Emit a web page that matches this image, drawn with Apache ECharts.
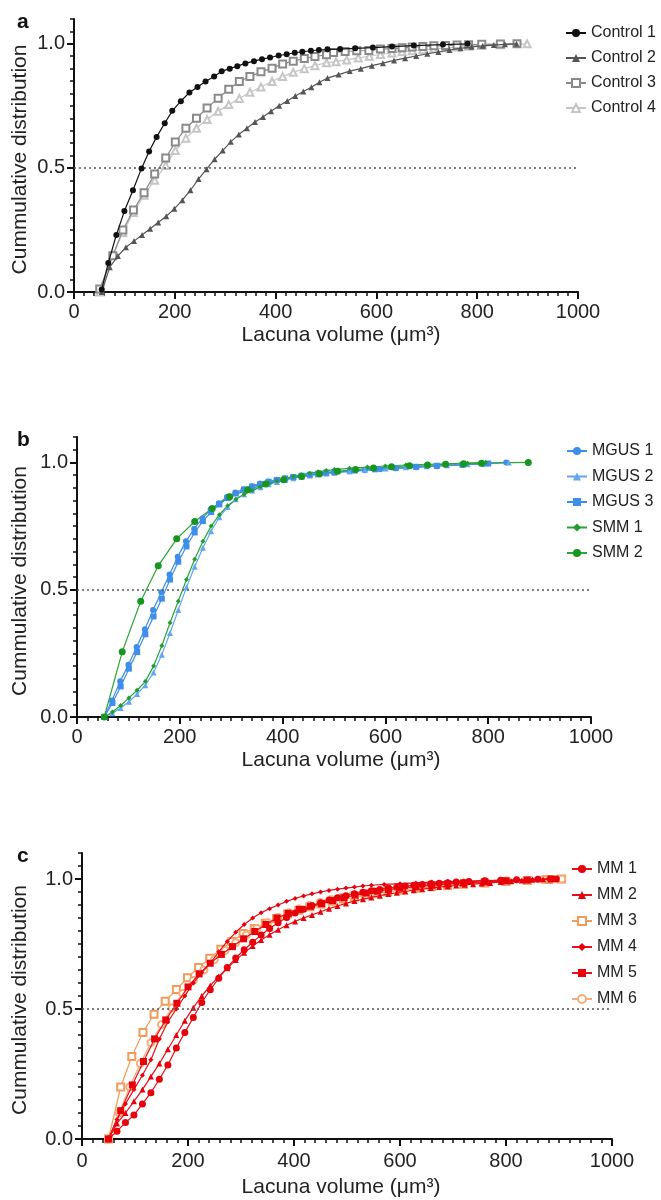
<!DOCTYPE html>
<html><head><meta charset="utf-8">
<script src="https://cdn.jsdelivr.net/npm/echarts@6/dist/echarts.min.js"></script>
<style>html,body{margin:0;padding:0;background:#fff}#c{width:661px;height:1200px}</style>
</head><body><div id="c"></div>
<script>
// ---------- Data ----------
const xTicks = [0, 200, 400, 600, 800, 1000];
const yTicks = [0, 0.5, 1.0];
const panelLabels = ['a', 'b', 'c'];
const xTitle = 'Lacuna volume (μm³)';
const yTitle = 'Cummulative distribution';

// Panel a
const control1X = [55,68,84,100,117,134,149,164,180,195,212,229,245,261,278,293,309,324,340,357,373,389,406,422,438,453,470,486,503,528,558,593,631,674,732,781];
const control1Y = [0.01,0.117,0.23,0.326,0.41,0.498,0.566,0.625,0.68,0.73,0.769,0.804,0.826,0.848,0.868,0.889,0.9,0.91,0.921,0.93,0.938,0.945,0.953,0.958,0.964,0.968,0.972,0.975,0.978,0.979,0.982,0.985,0.989,0.993,0.997,1.0];
const control2X = [55,71,87,103,119,135,151,167,183,199,215,231,247,263,279,295,311,327,343,359,375,391,407,423,439,455,471,487,503,525,547,569,591,613,635,657,679,701,723,745,767,789,811,833,855,878];
const control2Y = [0.0,0.10,0.145,0.18,0.205,0.23,0.255,0.28,0.305,0.335,0.37,0.41,0.455,0.495,0.535,0.57,0.605,0.635,0.66,0.685,0.705,0.728,0.75,0.77,0.79,0.808,0.825,0.845,0.862,0.876,0.89,0.9,0.912,0.922,0.933,0.942,0.951,0.96,0.967,0.975,0.982,0.988,0.992,0.995,0.998,1.0];
const control3X = [51,77,97,118,139,160,182,201,222,243,264,286,307,328,349,371,393,414,435,457,478,501,515,538,561,585,608,631,651,671,692,714,737,760,783,809,846,879];
const control3Y = [0.012,0.146,0.25,0.33,0.40,0.475,0.54,0.604,0.66,0.70,0.741,0.781,0.817,0.848,0.868,0.887,0.902,0.919,0.93,0.941,0.949,0.956,0.965,0.969,0.972,0.973,0.979,0.981,0.984,0.987,0.989,0.992,0.993,0.995,0.996,0.998,0.999,1.0];
const control4X = [51,77,97,118,139,160,182,201,222,243,264,286,307,328,349,371,393,414,435,457,478,501,520,541,564,586,608,631,651,671,692,714,737,760,783,809,846,899];
const control4Y = [0.0,0.15,0.24,0.32,0.39,0.45,0.51,0.57,0.62,0.66,0.695,0.728,0.755,0.78,0.805,0.826,0.848,0.868,0.885,0.9,0.912,0.924,0.928,0.935,0.943,0.95,0.957,0.963,0.968,0.972,0.976,0.98,0.984,0.987,0.99,0.993,0.996,1.0];

// Panel b
const mgus1X = [53,68,84,100,116,132,148,164,180,196,212,228,244,260,276,292,308,324,340,356,372,388,404,420,436,452,468,484,500,530,560,590,620,660,700,750,790,835];
const mgus1Y = [0.0,0.065,0.14,0.205,0.275,0.345,0.42,0.49,0.56,0.63,0.69,0.74,0.78,0.815,0.84,0.865,0.882,0.895,0.907,0.917,0.925,0.932,0.938,0.943,0.948,0.952,0.955,0.958,0.961,0.965,0.969,0.973,0.977,0.981,0.985,0.99,0.994,1.0];
const mgus2X = [53,69,85,101,117,133,149,165,181,197,213,229,245,261,277,293,309,325,341,357,373,389,405,421,437,453,469,485,501,530,560,600,640,680,720,760,800,840];
const mgus2Y = [0.0,0.015,0.035,0.06,0.09,0.125,0.175,0.245,0.33,0.42,0.51,0.59,0.665,0.73,0.785,0.825,0.855,0.875,0.89,0.903,0.914,0.923,0.931,0.938,0.944,0.949,0.953,0.957,0.96,0.965,0.97,0.976,0.981,0.985,0.989,0.993,0.997,1.0];
const mgus3X = [53,69,85,101,117,133,149,165,181,197,213,229,245,261,277,293,309,325,341,357,373,389,405,421,437,453,469,485,501,540,580,620,660,700,750,800];
const mgus3Y = [0.0,0.055,0.12,0.19,0.255,0.325,0.395,0.465,0.54,0.61,0.67,0.725,0.77,0.805,0.835,0.86,0.878,0.893,0.905,0.915,0.924,0.931,0.937,0.943,0.948,0.952,0.956,0.96,0.963,0.968,0.973,0.978,0.983,0.987,0.991,0.996];
const smm1X = [53,69,85,101,117,133,149,165,181,197,213,229,245,261,277,293,309,325,341,357,373,389,405,421,437,453,469,485,501,530,565,600,640,680,720,760,795];
const smm1Y = [0.0,0.02,0.045,0.075,0.105,0.14,0.2,0.28,0.37,0.455,0.54,0.62,0.69,0.75,0.795,0.83,0.855,0.875,0.89,0.905,0.918,0.928,0.937,0.945,0.952,0.958,0.963,0.968,0.972,0.977,0.982,0.986,0.99,0.993,0.995,0.997,1.0];
const smm2X = [53,88,124,158,194,229,263,297,332,367,402,437,472,507,542,577,612,647,682,717,752,787,878];
const smm2Y = [0.0,0.256,0.455,0.594,0.70,0.768,0.819,0.865,0.893,0.915,0.932,0.945,0.956,0.965,0.972,0.978,0.983,0.987,0.99,0.993,0.995,0.997,1.0];

// Panel c
const mm1X = [50,66,82,98,114,130,146,162,178,194,210,226,242,258,274,290,306,322,338,354,370,386,402,418,434,450,466,482,498,514,530,546,562,578,594,610,626,642,658,674,690,706,730,760,790,820,860,895];
const mm1Y = [0.0,0.03,0.063,0.092,0.135,0.178,0.23,0.285,0.35,0.41,0.467,0.525,0.574,0.618,0.66,0.696,0.728,0.757,0.785,0.81,0.832,0.852,0.869,0.884,0.897,0.909,0.919,0.928,0.936,0.943,0.949,0.955,0.96,0.965,0.969,0.973,0.976,0.979,0.982,0.984,0.986,0.988,0.99,0.993,0.995,0.997,0.999,1.0];
const mm2X = [50,66,82,98,114,130,146,162,178,194,210,226,242,258,274,290,306,322,338,354,370,386,402,418,434,450,466,482,498,514,530,546,562,578,594,610,626,642,658,674,690,706,722,738,754,770,790,810,830,850,870,890];
const mm2Y = [0.0,0.06,0.1,0.145,0.19,0.24,0.29,0.345,0.4,0.455,0.505,0.55,0.59,0.625,0.657,0.688,0.716,0.742,0.765,0.786,0.805,0.822,0.837,0.85,0.862,0.874,0.886,0.896,0.906,0.915,0.922,0.929,0.936,0.942,0.947,0.952,0.957,0.961,0.965,0.969,0.972,0.975,0.978,0.98,0.983,0.985,0.988,0.991,0.994,0.997,0.999,1.0];
const mm3X = [50,73,94,115,136,157,178,199,220,241,262,283,304,325,346,367,388,409,430,451,472,493,514,535,556,577,600,630,660,690,720,760,800,840,880,905];
const mm3Y = [0.0,0.2,0.317,0.41,0.48,0.53,0.575,0.62,0.66,0.695,0.73,0.76,0.79,0.81,0.83,0.848,0.865,0.88,0.893,0.904,0.914,0.923,0.931,0.938,0.945,0.951,0.957,0.964,0.97,0.975,0.98,0.985,0.99,0.994,0.998,1.0];
const mm4X = [50,66,82,98,114,130,146,162,178,194,210,226,242,258,274,290,306,322,338,354,370,386,402,418,434,450,466,482,498,514,530,546,570,600,630,660,690,720,760,800,850,880];
const mm4Y = [0.0,0.075,0.135,0.19,0.245,0.305,0.385,0.45,0.5,0.55,0.6,0.64,0.675,0.72,0.76,0.795,0.825,0.85,0.87,0.886,0.9,0.914,0.925,0.935,0.943,0.95,0.956,0.961,0.965,0.969,0.973,0.976,0.979,0.982,0.985,0.988,0.99,0.992,0.994,0.996,0.998,1.0];
const mm5X = [50,73,95,116,137,158,179,200,221,242,263,284,305,326,347,368,389,410,431,452,473,494,515,536,557,578,600,630,660,690,720,760,800,840,885];
const mm5Y = [0.0,0.109,0.208,0.298,0.385,0.458,0.522,0.585,0.635,0.676,0.71,0.74,0.77,0.798,0.825,0.85,0.868,0.883,0.895,0.905,0.917,0.928,0.938,0.946,0.953,0.959,0.965,0.971,0.976,0.981,0.985,0.989,0.993,0.996,1.0];
const mm6X = [50,70,90,110,130,150,170,190,210,230,250,270,290,310,330,350,370,390,410,430,450,470,490,510,530,550,575,600,630,660,690,720,760,800,840,870,905];
const mm6Y = [0.0,0.1,0.2,0.29,0.37,0.44,0.505,0.56,0.61,0.65,0.69,0.725,0.755,0.785,0.81,0.832,0.852,0.87,0.885,0.898,0.91,0.92,0.929,0.937,0.944,0.95,0.957,0.963,0.97,0.975,0.98,0.984,0.988,0.992,0.995,0.998,1.0];

// ---------- Layout ----------
const FONT = "'Liberation Sans', Arial, Helvetica, sans-serif";
const grids = [
  {left: 74, top: 19, width: 504, height: 273},
  {left: 77, top: 437, width: 514, height: 280},
  {left: 82, top: 853, width: 530, height: 286}
];
const legendPos = [
  {left: 565, top: 25},
  {left: 566, top: 443},
  {left: 571, top: 861}
];
const labelMargins = [10, 10, 12];
const titleOffsets = [43, 43, 48];

const xAxes = [], yAxes = [];
grids.forEach((g, i) => {
  // minor-tick axis (carries the axis line)
  xAxes.push({type: 'value', gridIndex: i, min: 0, max: 1000, interval: 20,
    axisLine: {show: true, onZero: false, lineStyle: {color: '#111', width: 2}},
    axisTick: {show: true, length: 4, lineStyle: {color: '#111', width: 1.5}},
    axisLabel: {show: false}, splitLine: {show: false}});
  // major-tick axis with labels
  xAxes.push({type: 'value', gridIndex: i, min: 0, max: 1000, interval: 200, position: 'bottom',
    axisLine: {show: false, onZero: false},
    axisTick: {show: true, length: 7, lineStyle: {color: '#111', width: 2}},
    axisLabel: {show: true, margin: labelMargins[i], fontSize: 20, color: '#222', fontFamily: FONT,
      formatter: v => String(v)},
    splitLine: {show: false}});
  yAxes.push({type: 'value', gridIndex: i, min: 0, max: 1.1, interval: 0.05,
    axisLine: {show: true, onZero: false, lineStyle: {color: '#111', width: 2}},
    axisTick: {show: true, length: 4, lineStyle: {color: '#111', width: 1.5}},
    axisLabel: {show: false}, splitLine: {show: false}});
  yAxes.push({type: 'value', gridIndex: i, min: 0, max: 1.1, position: 'left',
    axisLine: {show: false, onZero: false},
    axisTick: {show: true, length: 7, customValues: yTicks, lineStyle: {color: '#111', width: 2}},
    axisLabel: {show: true, margin: 9, fontSize: 20, color: '#222', fontFamily: FONT,
      customValues: yTicks, formatter: v => v.toFixed(1)},
    splitLine: {show: false}});
});

function mk(name, xs, ys, gi, symbol, size, color, lineColor, opts) {
  const s = {
    name, type: 'line', xAxisIndex: gi * 2, yAxisIndex: gi * 2,
    data: xs.map((x, i) => [x, ys[i]]),
    symbol, symbolSize: size, showSymbol: true,
    lineStyle: {color: lineColor || color, width: 1.2},
    itemStyle: {color: color, borderColor: color, borderWidth: symbol.startsWith('empty') ? 1.4 : 0},
    emphasis: {disabled: true}, animation: false, z: 3
  };
  return Object.assign(s, opts || {});
}
const refLine = {silent: true, symbol: 'none', label: {show: false},
  lineStyle: {type: [2, 3], color: '#555', width: 1.5}, data: [{yAxis: 0.5}]};

const series = [
  mk('Control 1', control1X, control1Y, 0, 'circle', 6, '#111', '#111', {markLine: refLine, z: 6}),
  mk('Control 2', control2X, control2Y, 0, 'triangle', 6, '#555', '#555', {z: 5}),
  mk('Control 3', control3X, control3Y, 0, 'emptyRect', 7, '#8a8a8a', '#8a8a8a', {z: 4}),
  mk('Control 4', control4X, control4Y, 0, 'emptyTriangle', 7, '#c6c6c6', '#c6c6c6', {z: 3}),
  mk('MGUS 1', mgus1X, mgus1Y, 1, 'circle', 6, '#3d8ee8', '#3d8ee8', {markLine: refLine}),
  mk('MGUS 2', mgus2X, mgus2Y, 1, 'triangle', 6, '#62a6f0', '#62a6f0'),
  mk('MGUS 3', mgus3X, mgus3Y, 1, 'rect', 6, '#3f8fea', '#3f8fea'),
  mk('SMM 1', smm1X, smm1Y, 1, 'diamond', 5, '#1f9e2c', '#2aa637'),
  mk('SMM 2', smm2X, smm2Y, 1, 'circle', 7, '#17961f', '#2aa637'),
  mk('MM 1', mm1X, mm1Y, 2, 'circle', 7, '#e8000b', '#e8101a', {markLine: refLine}),
  mk('MM 2', mm2X, mm2Y, 2, 'triangle', 6, '#e8000b', '#e8101a'),
  mk('MM 3', mm3X, mm3Y, 2, 'emptyRect', 7, '#f49a5a', '#f49a5a', {z: 2}),
  mk('MM 4', mm4X, mm4Y, 2, 'diamond', 5, '#e8000b', '#e8101a'),
  mk('MM 5', mm5X, mm5Y, 2, 'rect', 7, '#e8000b', '#e8101a'),
  mk('MM 6', mm6X, mm6Y, 2, 'emptyCircle', 7, '#f7ad78', '#f7ad78', {z: 2})
];

const legendGroups = [
  ['Control 1', 'Control 2', 'Control 3', 'Control 4'],
  ['MGUS 1', 'MGUS 2', 'MGUS 3', 'SMM 1', 'SMM 2'],
  ['MM 1', 'MM 2', 'MM 3', 'MM 4', 'MM 5', 'MM 6']
];
const gaps = [9, 9.5, 10];
const legends = legendGroups.map((names, i) => ({
  data: names, orient: 'vertical', left: legendPos[i].left, top: legendPos[i].top,
  padding: 0, itemWidth: 20, itemHeight: 10, itemGap: gaps[i], selectedMode: false,
  textStyle: {fontSize: 16, color: '#222', fontFamily: FONT}
}));

const graphics = [];
grids.forEach((g, i) => {
  graphics.push({type: 'text', left: 17, top: g.top - 7,
    style: {text: panelLabels[i], fontSize: 21, fontWeight: 'bold', fill: '#111', fontFamily: FONT}});
  graphics.push({type: 'text', x: 20, y: g.top + g.height / 2 + 4, rotation: Math.PI / 2,
    style: {text: yTitle, fontSize: 21, fill: '#222', fontFamily: FONT, align: 'center', verticalAlign: 'middle'}});
  graphics.push({type: 'text', x: 341, y: g.top + g.height + titleOffsets[i],
    style: {text: xTitle, fontSize: 21, fill: '#222', fontFamily: FONT, align: 'center', verticalAlign: 'middle'}});
});

const chart = echarts.init(document.getElementById('c'), null, {renderer: 'canvas'});
chart.setOption({
  backgroundColor: '#fff', animation: false,
  grid: grids, xAxis: xAxes, yAxis: yAxes, legend: legends, series, graphic: graphics
});
</script></body></html>
